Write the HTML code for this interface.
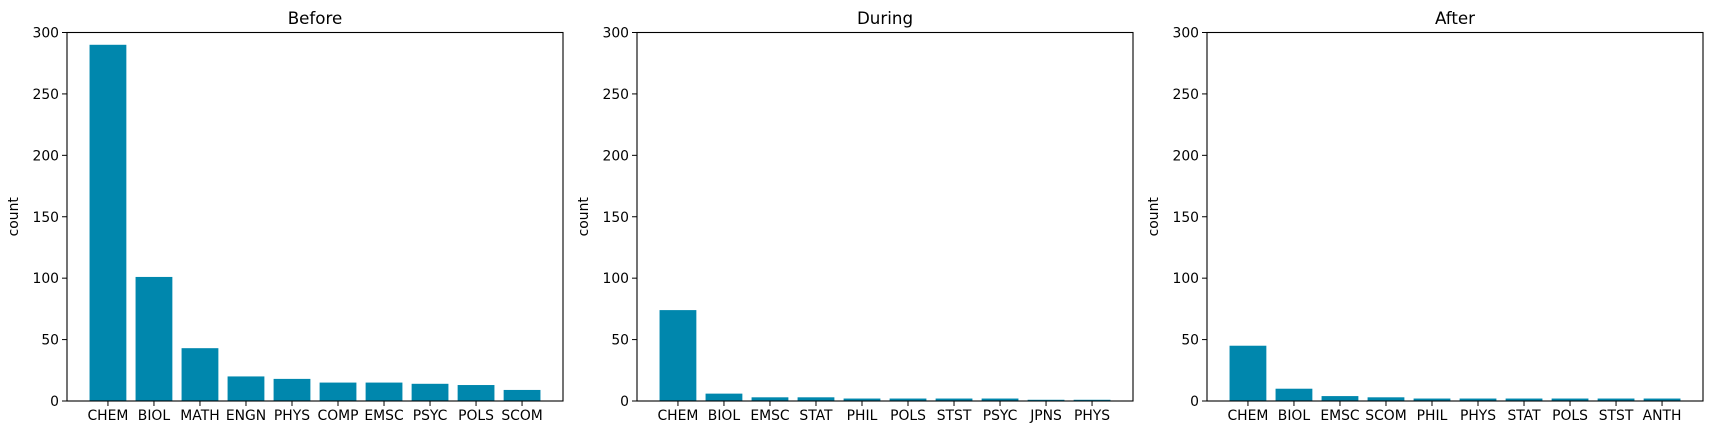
<!DOCTYPE html>
<html><head><meta charset="utf-8"><style>
html,body{margin:0;padding:0;background:#fff;}
svg{display:block;font-family:"DejaVu Sans","Liberation Sans",sans-serif;}
</style></head><body>
<svg id="chart" width="1713" height="435" viewBox="0 0 1713 435" xmlns="http://www.w3.org/2000/svg"></svg>
<script>
const panelTitles = ["Before", "During", "After"];
const beforeCategories = ["CHEM","BIOL","MATH","ENGN","PHYS","COMP","EMSC","PSYC","POLS","SCOM"];
const beforeValues = [290,101,43,20,18,15,15,14,13,9];
const duringCategories = ["CHEM","BIOL","EMSC","STAT","PHIL","POLS","STST","PSYC","JPNS","PHYS"];
const duringValues = [74,6,3,3,2,2,2,2,1,1];
const afterCategories = ["CHEM","BIOL","EMSC","SCOM","PHIL","PHYS","STAT","POLS","STST","ANTH"];
const afterValues = [45,10,4,3,2,2,2,2,2,2];
const yTicks = [0,50,100,150,200,250,300];
const yMax = 300;

const NS = "http://www.w3.org/2000/svg";
const svgEl = document.getElementById("chart");
function mk(tag, attrs, parent){
  const e = document.createElementNS(NS, tag);
  for (const k in attrs) e.setAttribute(k, attrs[k]);
  (parent||svgEl).appendChild(e);
  return e;
}
const panels = [
  {cats: beforeCategories, vals: beforeValues},
  {cats: duringCategories, vals: duringValues},
  {cats: afterCategories, vals: afterValues}
];
const left0 = 67, pw = 496, pstep = 570, axTop = 32.5, axBottom = 401;
panels.forEach((p, pi) => {
  const x0 = left0 + pi*pstep;
  const g = mk("g", {});
  
  
  const n = p.cats.length;
  const lo = -0.4 - 0.05*(n - 0.2), hi = (n-1) + 0.4 + 0.05*(n - 0.2);
  const xs = v => x0 + (v - lo)/(hi - lo)*pw;
  const ys = v => axBottom - v/yMax*(axBottom - axTop);
  p.vals.forEach((v, i) => {
    const bw = xs(0.8) - xs(0);
    const r = mk("rect", {x: xs(i) - bw/2, y: ys(v), width: bw, height: axBottom - ys(v), fill: "#0087ad"}, g);
    
    
    mk("line", {x1: xs(i), x2: xs(i), y1: axBottom, y2: axBottom+5, stroke: "#000", "stroke-width": 1}, g);
    const t = mk("text", {x: xs(i), y: axBottom+19, "text-anchor": "middle", "font-size": "13.9px", fill: "#000"}, g);
    t.textContent = p.cats[i];
    
    
  });
  yTicks.forEach(tv => {
    mk("line", {x1: x0-5, x2: x0, y1: ys(tv), y2: ys(tv), stroke: "#000", "stroke-width": 1}, g);
    const t = mk("text", {x: x0-8, y: ys(tv)+5, "text-anchor": "end", "font-size": "13.9px", fill: "#000"}, g);
    t.textContent = tv;
    
    
  });
  const fr = mk("rect", {x: x0, y: axTop, width: pw, height: axBottom-axTop, fill: "none", stroke: "#000", "stroke-width": 1.1}, g);
  
  
  const tt = mk("text", {x: x0 + pw/2, y: 24, "text-anchor": "middle", "font-size": "16.7px", fill: "#000"}, g);
  tt.textContent = panelTitles[pi];
  
  
  const yl = mk("text", {x: 0, y: 0, "text-anchor": "middle", "font-size": "13.9px", fill: "#000", transform: `translate(${x0-49},${(axTop+axBottom)/2}) rotate(-90)`}, g);
  yl.textContent = "count";
  
  
});
</script>
</body></html>
